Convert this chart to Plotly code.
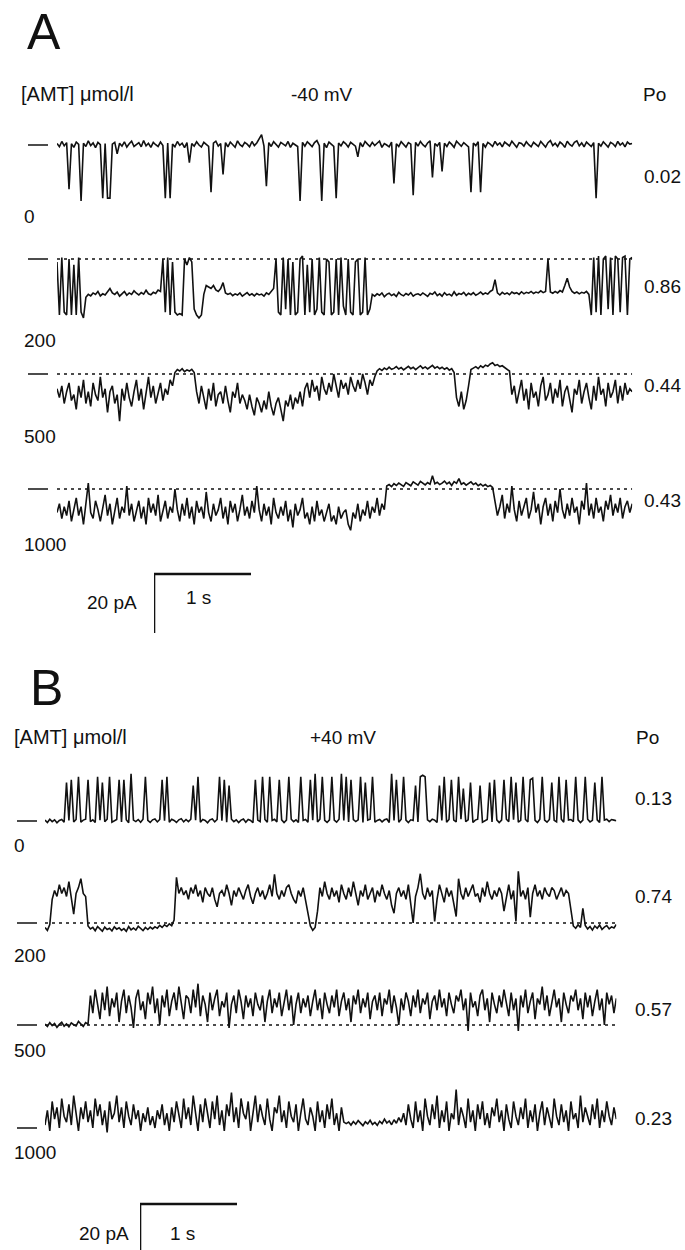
import numpy as np
import plotly.graph_objects as go

# ---------------- DATA ----------------
# Panel A: -40 mV, currents in pA (closed level = 0, openings downward)
conc_A = ["0", "200", "500", "1000"]
po_A = ["0.02", "0.86", "0.44", "0.43"]
# Panel B: +40 mV (openings upward)
conc_B = ["0", "200", "500", "1000"]
po_B = ["0.13", "0.74", "0.57", "0.23"]

duration_A_s = 5.93
duration_B_s = 5.89

current_A_0 = [
    0.5, -0.6, 1.2, -0.3, 0.8, -15, 0.4, -0.8, 1.0, 0.2, -19, 0.6, -0.5, 1.4, -0.2, 0.7, -0.9, 0.9, 0.1, -18,
    0.5, -18, -18, 0.3, 0.9, -3, 0.6, -0.4, 1.1, -0.7, 0.4, 1.3, -0.5, 0.2, 0.8, -0.6, 1.5, -0.3, 0.6, -0.8,
    0.9, 0.1, -0.5, 1.0, -0.2, -18, 0.7, -18, 0.3, -0.6, 1.2, -0.1, 0.6, -0.9, 0.8, -6, 0.5, -0.4, 1.1, 0.0,
    -0.7, 0.9, 0.3, -0.5, -16, 0.6, 1.3, -0.4, 0.5, -10, 0.8, -0.6, 1.0, 0.2, -0.8, 1.4, 0.1, -0.5, 0.9, 0.3,
    -0.6, 1.2, -0.2, 0.7, 2.0, 3.5, -0.4, -14, 0.8, -0.5, 1.1, 0.2, -0.7, 0.9, 0.4, -0.3, 1.2, -0.8, 0.6, 0.1,
    -0.5, -19, 0.9, -0.4, 1.1, 0.3, -0.6, 0.8, 1.5, -0.2, -19, 0.6, -0.9, 1.0, 0.2, -0.5, -18, 0.7, -0.3, 1.1,
    0.4, -0.7, 0.9, 0.1, -0.4, -4, 0.8, -0.6, 1.2, 0.3, -0.5, 0.9, -0.2, 0.6, 1.3, -0.8, 0.5, 0.0, -0.6, 1.0,
    -13, 0.4, -0.5, 1.1, 0.2, -0.7, 0.8, 0.3, -17, 0.9, -0.4, 1.2, 0.1, -0.6, 0.7, 1.4, -11, 0.5, -0.3, 0.9,
    -9, 0.6, -0.5, 1.0, 0.2, -0.8, 1.3, 0.4, -0.4, 0.8, 0.1, -0.6, -16, 0.7, -0.2, 1.1, -16, 0.5, -0.7, 0.9,
    0.3, -0.5, 1.2, 0.0, 0.7, -0.6, 1.0, 0.4, -0.3, 1.3, 0.2, -0.8, 0.8, 0.5, -0.4, 1.1, 0.1, -0.6, 0.9, 0.3,
    -0.5, 1.2, 0.4, -0.7, 0.8, 1.5, -0.2, 0.6, -0.5, 1.0, 0.3, -0.8, 1.3, 0.2, -0.4, 0.9, 1.4, -0.3, 0.7, -0.6,
    1.0, 0.2, -0.5, 0.8, -18, 0.6, -0.4, 1.1, 0.3, -0.7, 0.9, 0.4, -0.5, 1.2, 0.0, 0.7, -0.6, 1.0, 0.3, 0.5,
]

current_A_200 = [
    -1, -19, 0.5, -18, -19, 0, -19, -2, -19, 0.5, -18, -20,
    -13, -12, -12.5, -11.5, -12, -11, -12.5, -11.8, -12.2, -11, -10, -11.5, -12, -11.2, -12.6, -11.8,
    -11, -12.3, -11.5, -12, -10.8, -11.6, -12.2, -11.4, -11.9, -10.6, -11.8, -12.1, -11.3, -11.7, -10.5, -11,
    0, -18, 0.5, -19, -1, -18, -19, -18.5, -19, 0, -2, 0.5, -1, -17, -19, -20, -19, -12, -9,
    -9.5, -10, -9, -10.5, -11, -10, -8, -11.5, -12, -11.6, -12.4, -11.8, -12.2, -11.5, -12.6, -12,
    -11.4, -12.3, -11.8, -12.5, -11.7, -12.2, -11.9, -12.6, -11.5, -12, -11, -10,
    0, -18, -19, 0.5, -17, 0, -19, -1, -19, -18, 0, 1, -19, -2, -18, 0, -19, -17, 0.5, -18,
    -19, 0, -1, -19, -18, 0, -19, 0.5, -16, -19, 0, -18, -19, -1, 0, -19, -18, 0.5, -19, -17,
    -12, -12.6, -11.8, -12.3, -11.5, -12.8, -12, -11.6, -12.4, -11.9, -12.7, -11.3, -12.1, -12.5, -11.7, -12.2, -11.4, -12.6, -12, -11.8,
    -12.3, -11.5, -12.1, -12.7, -11.6, -12, -11.2, -12.4, -11.8, -12.6, -11.4, -12.2, -11.9, -12.5, -11.1, -12.3, -11.7, -12, -11.3, -12.4,
    -11.6, -12.1, -11.4, -12.3, -11.8, -11.2, -12, -11.5, -11.9, -11, -10.5, -7, -11.5, -12.2, -11.3, -11.9, -11.5, -12.1, -11.2, -11.7,
    -11.4, -12, -11.1, -11.8, -11.3, -11.6, -11, -11.7, -11.2, -11.5, -10.8, -11.4, -11, 0, -11.2,
    -11.6, -11, -11.5, -10.7, -11.2, -9, -6.5, -9.5, -11, -11.6, -11.2, -11.8, -11.3, -11.6, -11, -12,
    -19, 0.5, -18, 1, -19, 0, 1, -17, 0.5, -19, 1, 0, -18, 0.5, 1, -19, 0, 0.5,
]

current_A_500 = [
    -5, -8, -4, -10, -6, -3, -9, -7, -12, -4, -8, -2, -10, -6, -11, -3, -7, -9, -1, -8,
    -5, -13, -6, -4, -10, -7, -16, -5, -9, -3, -8, -11, -6, -2, -9, -5, -12, -7, -1, -8,
    -4, -10, -6, -3, -9, -5, -7, -2, -4,
    0.5, 1.5, 1, 1.8, 0.8, 1.4, 1, 1.6, 0.5,
    -6, -10, -4, -8, -12, -5, -9, -3, -11, -7, -6, -10, -4, -9, -13, -6, -8, -3, -10, -7,
    -9, -12, -7, -11, -14, -8, -10, -13, -9, -12, -6, -11, -14, -10, -8, -12, -16,
    -9, -11, -7, -12, -8, -10, -6, -11,
    -5, -3, -8, -2, -6, -4, -9, -1, -5, -7, -3, -6, 0, -4, -8, -2, -5, -3, -7, -1,
    -4, -6, -2, -5, 0, -3, -7, -2, -4, -1,
    1, 1.8, 1.2, 2, 1.5, 2.3, 1.6, 1.9, 2.5, 1.7, 2.2, 1.4, 2, 2.6, 1.8, 2.3, 1.5, 2.1, 2.8, 1.9,
    2.4, 1.7, 2.2, 2.9, 2, 2.5, 1.8, 2.3, 1.6, 2.1, 1.3, 1.8, 0.5,
    -8, -11, -6, -12, -9, -4,
    1.5, 2, 2.5, 1.8, 2.8, 2.2, 3, 2.6, 3.4, 3.8, 2.9, 3.2, 2.5, 2.8, 2.2, 1.8, 1,
    -7, -4, -10, -6, -2, -9, -5, -12, -3, -8, -6, -11, -4, -1, -9, -7, -3, -10, -5, -8,
    -2, -11, -6, -4, -9, -13, -5, -7, -2, -10, -6, -3, -8, -12, -4, -9, -1, -7, -5, -11,
    -3, -8, -6, -2, -10, -4, -9, -3, -7, -5, -6,
]

current_A_1000 = [
    -8, -5, -10, -6, -9, -4, -11, -7, -3, -9, -6, -12, -5, 2, -8, -10, -4, -7, -11, -6,
    -2, -9, -5, -12, -7, -3, -10, -6, -8, 1, -9, -5, -11, -7, -4, -10, -6, -12, -3, -8,
    -5, -9, -2, -11, -7, -4, -10, -6, -8, 0, -7, -11, -5, -9, -3, -10, -6, -12, -4, -8,
    -6, -10, -1, -8, -11, -5, -9, -7, -3, -10, -6, -12, -4, -8, -5, -11, -7, -2, -9, -6,
    -10, -4, -8, 1, -7, -11, -5, -9, -6, -12, -3, -8, -10, -6, -9, -4, -11, -7, -13, -5,
    -9, -7, -3, -10, -8, -12, -6, -11, -4, -9, -7, -11, -8, -5, -11, -9, -12, -6, -10, -8,
    -7, -12, -14, -8, -10, -5, -11, -7, -9, -4, -10, -6, -8, -3, -9, -5, -7,
    1, 1.5, 0.8, 1.8, 1.2, 2, 1.4, 0.9, 2.2, 1.6, 1.1, 2.4, 1.7, 1.3, 2.6, 1.9, 1.4, 2.2, 1.6, 4.5,
    1.8, 2.3, 1.5, 2, 2.7, 1.7, 2.3, 1.2, 2.5, 1.9, 3.5, 1.6, 2.1, 1.3, 1.9, 2.4, 1.5, 2, 1.1, 1.7,
    1, 1.5, 0.8, 1.2, 0.5,
    -4, -9, -6, -2, -10, -5, -8, 1, -7, -11, -4, -9, -6, -3, -10, -7, -1, -8, -5, -12,
    -6, -3, -9, -5, -11, -4, -8, 0, -7, -10, -5, -9, -3, -8, -6, -12, -4, -7, 2, -9,
    -5, -10, -3, -8, -6, -11, -4, -7, -2, -9, -5, -8, -3, -10, -6, -4, -8, -5,
]

current_B_0 = [
    0.3, -0.5, 0.6, -0.2, 0.4, -0.6, 0.2, 0.5, -0.4, 13,
    0.2, 14, -0.3, 0.5, 15, -0.4, 0.3, 0.6, 14, -0.2,
    0.4, -0.5, 15, 0.3, 13, -0.2, 0.6, 15, -0.4, 0.2,
    0.5, 14, -0.3, 14, 0.4, -0.6, 16, 0.3, -0.2, 0.5,
    -0.4, 0.6, 15, 0.2, -0.5, 0.4, 0.7, -0.3, 0.5, 14,
    0.1, 15, -0.4, 0.6, 0.2, -0.5, 0.4, 0.8, -0.3, 0.5,
    -0.2, 0.6, 12, 0.3, 15, -0.4, 0.5, 0.2, -0.6, 0.4,
    0.7, -0.3, 0.5, 15, 0.1, 14, -0.4, 12, 0.6, -0.2,
    0.4, -0.5, 0.3, 0.7, -0.4, 0.5, 0.2, -0.6, 14, 0.3,
    -0.2, 15, 0.5, -0.4, 15, 0.2, 0.6, -0.3, 14, 0.4,
    -0.5, 0.3, 15, 0.6, -0.2, 0.4, -0.5, 15, 0.2, 0.5,
    -0.4, 14, 0.3, 16, -0.3, 0.6, 15, 0.2, -0.5, 0.4,
    15, 0.3, -0.4, 0.6, 16, 0.2, 15, -0.3, 14, 0.5,
    -0.2, 0.4, 15, -0.5, 13, 0.3, 0.6, 15, -0.4, 0.2,
    0.5, -0.3, 0.4, 0.7, -0.5, 16, 0.2, 14, -0.4, 0.6,
    15, 0.3, -0.5, 0.4, 0.2, 12, -0.3, 15, 15.5, 15,
    0.4, -0.2, 0.6, 0.3, -0.5, 12, 0.2, 15, -0.4, 0.5,
    14, 0.3, -0.3, 15, 0.6, 11, -0.2, 0.4, 13, -0.5,
    0.3, 0.6, 12, -0.4, 0.2, 0.5, 13, -0.3, 14, 0.4,
    -0.5, 0.3, 14, 0.6, -0.2, 15, 0.4, 13, -0.4, 0.2,
    15, 0.5, -0.3, 14, 14.5, 0.2, -0.5, 0.6, 15, 0.3,
    -0.4, 0.5, 13, 0.2, -0.3, 15, 0.6, -0.4, 14, 0.3,
    0.5, -0.2, 15, 0.4, -0.5, 0.3, 15, 0.6, -0.3, 0.2,
    13, 0.4, -0.5, 15, 0.3, 0.6, -0.2, 0.5, 0.3, 0.1,
]

current_B_200 = [
    -1.5, -2.5, -0.5, 8, 11, 9, 13, 10, 12, 9,
    14, 8, 3, 10, 12, 15, 10, 9, -1, -2,
    -1.5, -2.6, -1.2, -2, -2.8, -1.4, -2.2, -1.8, -2.7, -1.3,
    -2.1, -1.6, -2.5, -1.9, -2.8, -1.2, -2.3, -1.7, -2.4, -1.1,
    -1.9, -2.6, -1.5, -2.2, -1.4, -2, -1.3, -1.8, -0.8, -1.5,
    -0.6, -1.2, -0.3, -0.9, 1, 15.5, 10, 12, 9.5, 11,
    8, 12, 10, 13, 9, 11, 7, 12, 10, 9,
    12, 8, 5.5, 10, 11, 9, 13, 10, 6, 11,
    9, 12, 10, 8, 11, 13, 9, 6.5, 10, 12,
    9, 11, 8, 10, 13, 9, 16.5, 10, 8, 11,
    9, 12, 13, 10, 8, 6.7, 11, 9, 12, 8,
    3, -1, -2.5, -1.5, 4, 12, 9, 14, 10, 8,
    12, 9, 11, 7, 13, 10, 8, 12, 9, 14,
    10, 6, 11, 9, 13, 8, 10, 12, 7, 11,
    9, 13, 10, 8, 11, 6, 3.3, 10, 12, 9,
    11, 8, 13, 7, 0, 9, 12, 16.7, 10, 8,
    12, 9, 11, 0.5, 8, 13, 10, 7, 12, 9,
    11, 6, 2.2, 15, 10, 8, 12, 9, 11, 13,
    9, 10, 7, 12, 9, 14, 10, 8, 11, 9,
    12, 10, 4, 9, 13, 8, 11, 0.5, 17.5, 9,
    11, 8, 12, 2, 10, 13, 9, 11, 8, 12,
    10, 9, 12, 11, 8, 10, 12, 9, 11, 10,
    5, -1, -1.8, -0.6, -1.5, 5, -0.8, -2, -1.2, -2.4,
    -1, -1.8, -0.7, -2.2, -1.4, -0.9, -2, -1.3, -1.7, -0.5,
]

current_B_500 = [
    0.3, -0.5, 0.8, -0.2, 0.5, -0.8, 0.2, 0.9, -0.4, 0.4,
    -0.6, 0.7, 0.1, -0.3, 1.2, 0.5, -0.5, 0.8, 0.3, 10,
    4, 12, 7, 2, 11, 5, 13, 3, 9, 6,
    11, 1, 8, 12, 4, 10, 6, -1, 9, 12,
    5, 8, 2, 11, 7, 13, 4, 9, 0, 10,
    6, 12, 3, 8, 11, 5, 13, 7, 2, 10,
    9, 4, 12, 6, 14, 3, 10, 7, 1, 11,
    5, 9, 12, 3, 8, 6, 11, -1, 7, 10,
    4, 12, 8, 2, 10, 6, 9, 3, 11, 7,
    5, 10, 1, 8, 12, 4, 9, 6, 11, 3,
    8, 12, 5, 10, 0, 7, 11, 4, 9, 6,
    10, 3, 8, 12, 5, 9, 2, 11, 7, 4,
    10, 6, 12, 3, 8, 11, 5, 9, 1, 10,
    7, 12, 4, 9, 6, 11, 2, 8, 10, 5,
    11, 3, 9, 7, 12, 4, 10, 6, 0, 9,
    5, 11, 8, 3, 10, 6, 12, 4, 9, 7,
    11, 2, 8, 10, 5, 12, 6, 9, 3, 11,
    7, 4, 10, 8, 12, 5, 9, -2, 11, 6,
    8, 3, 10, 12, 5, 9, 1, 11, 7, 4,
    10, 6, 12, 8, 3, 11, 5, 9, -2, 10,
    6, 12, 4, 8, 11, 2, 9, 7, 13, 5,
    10, 3, 8, 12, 6, 9, 1, 11, 7, 4,
    10, 8, 12, 5, 9, 2, 11, 6, 10, 3,
    8, 12, 5, 9, 0, 11, 7, 10, 4, 9,
]

current_B_1000 = [
    1, 6, -1, 9, 3, 7, 0, 10, 4, 2,
    8, 1, 11, 5, -1, 7, 3, 9, 2, 6,
    0, 10, 4, 8, 1, 6, -1.5, 9, 3, 5,
    11, 2, 7, 0, 9, 4, 1, 8, 3, 6,
    -1, 5, 2, 7, 1, 4, 0, 6, 3, 8,
    1, 5, -1, 7, 2, 9, 4, 0, 10, 3,
    7, 1, 11, 4, -1, 8, 2, 10, 5, 0,
    9, 3, 11, 1, 6, -1, 8, 4, 12, 2,
    7, 0, 10, 5, 3, 9, -1, 6, 11, 2,
    8, 4, 1, 10, 3, -1, 7, 5, 11, 2,
    6, 0, 9, 4, 2, 8, -1, 5, 10, 3,
    1, 7, 4, -1, 9, 2, 6, 0, 8, 3,
    10, 1, 5, -1, 7, 2, 1.5, 2, 1, 2.2,
    1.3, 2.5, 1.6, 0.8, 2.1, 1.4, 2.6, 1.2, 1.9, 0.9,
    2.3, 1.5, 3, 1.7, 2.4, 1.1, 2.8, 1.6, 3.5, 2,
    5, 1, 8, 3, 0, 9, 2, 6, -1, 10,
    4, 1, 8, 3, 11, 0, 6, 2, 9, -1,
    5, 3, 13, 1, 7, 4, 0, 10, 2, 6,
    -1, 8, 3, 9, 1, 5, 0, 7, 4, 10,
    2, 6, -1, 8, 3, 0, 9, 4, 1, 7,
    3, 10, 0, 6, 2, 8, -1, 5, 9, 1,
    7, 3, 0, 10, 4, 1, 8, 2, 6, -1,
    9, 3, 5, 0, 11, 2, 7, 4, 1, 8,
    3, 10, 0, 6, 2, 9, 4, 1, 7, 3,
]

scale_bar_time_s = 1
scale_bar_current_pA = 20

# ---------------- LAYOUT / STYLE ----------------
W, H = 685, 1250
PX_PER_PA = 2.95
PX_PER_S = 97.0
FONT = "Liberation Sans, Arial, Helvetica, sans-serif"
INK = "#111111"
LABEL_SIZE = 19
TRACE_WIDTH = 1.6

# per-trace placement: (data, duration, x_left_px, baseline_px, pA window lo/hi, dotted, dash x px)
panels = [
    dict(data=current_A_0, T=duration_A_s, x0=57, y0=145, lo=-24, hi=7, dotted=False, dash=(28, 48)),
    dict(data=current_A_200, T=duration_A_s, x0=57, y0=259, lo=-24, hi=7, dotted=True, dash=(28, 48)),
    dict(data=current_A_500, T=duration_A_s, x0=57, y0=374, lo=-24, hi=7, dotted=True, dash=(28, 48)),
    dict(data=current_A_1000, T=duration_A_s, x0=57, y0=489, lo=-24, hi=7, dotted=True, dash=(28, 48)),
    dict(data=current_B_0, T=duration_B_s, x0=45, y0=821, lo=-5, hi=20, dotted=False, dash=(17, 37)),
    dict(data=current_B_200, T=duration_B_s, x0=45, y0=923, lo=-5, hi=20, dotted=True, dash=(17, 37)),
    dict(data=current_B_500, T=duration_B_s, x0=45, y0=1025, lo=-5, hi=20, dotted=True, dash=(17, 37)),
    dict(data=current_B_1000, T=duration_B_s, x0=45, y0=1128, lo=-5, hi=20, dotted=False, dash=(17, 37)),
]

fig = go.Figure()
layout_axes = {}
shapes = []


def axname(n, letter):
    return f"{letter}axis" if n == 1 else f"{letter}axis{n}"


def axref(n, letter):
    return letter if n == 1 else f"{letter}{n}"


for i, p in enumerate(panels):
    n = i + 1
    vals = np.asarray(p["data"], dtype=float)
    N = len(vals)
    dt = p["T"] / (N - 1)
    t = np.arange(N) * dt
    width_px = p["T"] * PX_PER_S
    top_px = p["y0"] - p["hi"] * PX_PER_PA
    bot_px = p["y0"] - p["lo"] * PX_PER_PA
    layout_axes[axname(n, "x")] = dict(
        domain=[p["x0"] / W, (p["x0"] + width_px) / W], range=[0, p["T"]],
        visible=False, fixedrange=True, anchor=axref(n, "y"))
    layout_axes[axname(n, "y")] = dict(
        domain=[1 - bot_px / H, 1 - top_px / H], range=[p["lo"], p["hi"]],
        visible=False, fixedrange=True, anchor=axref(n, "x"))
    fig.add_trace(go.Scatter(
        x=t, y=vals, mode="lines", xaxis=axref(n, "x"), yaxis=axref(n, "y"),
        line=dict(color=INK, width=TRACE_WIDTH), showlegend=False, hoverinfo="skip"))
    # closed-level marker at the left
    shapes.append(dict(type="line", xref="paper", yref=axref(n, "y"),
                       x0=p["dash"][0] / W, x1=p["dash"][1] / W, y0=0, y1=0,
                       line=dict(color=INK, width=1.6)))
    if p["dotted"]:
        shapes.append(dict(type="line", xref=axref(n, "x"), yref=axref(n, "y"),
                           x0=0, x1=p["T"], y0=0, y1=0, layer="below",
                           line=dict(color=INK, width=1.3, dash="3px,4px")))

# scale bars (own axes with the same px/unit scaling)
scale_bars = [
    dict(corner=(154, 574)),
    dict(corner=(140, 1204)),
]
for j, sb in enumerate(scale_bars):
    n = len(panels) + j + 1
    cx, cy = sb["corner"]
    xr = 1.25
    hi = 2.0
    lo = -22.0
    bot_px = cy - lo * PX_PER_PA
    if bot_px > H:
        lo = -(H - cy) / PX_PER_PA
        bot_px = H
    layout_axes[axname(n, "x")] = dict(domain=[cx / W, (cx + xr * PX_PER_S) / W], range=[0, xr],
                                       visible=False, fixedrange=True, anchor=axref(n, "y"))
    layout_axes[axname(n, "y")] = dict(domain=[1 - bot_px / H, 1 - (cy - hi * PX_PER_PA) / H],
                                       range=[lo, hi], visible=False, fixedrange=True,
                                       anchor=axref(n, "x"))
    fig.add_trace(go.Scatter(
        x=[0, 0, scale_bar_time_s], y=[-scale_bar_current_pA, 0, 0], mode="lines",
        xaxis=axref(n, "x"), yaxis=axref(n, "y"),
        line=dict(color=INK, width=2.6), showlegend=False, hoverinfo="skip"))


def txt(s, x, y, size=LABEL_SIZE, anchor="left"):
    return dict(text=s, x=x / W, y=1 - y / H, xref="paper", yref="paper", showarrow=False,
                xanchor=anchor, yanchor="middle", font=dict(family=FONT, size=size, color=INK))


ann = [
    txt("A", 25, 32, size=50),
    txt("[AMT] μmol/l", 19, 94, size=20),
    txt("-40 mV", 322, 94, anchor="center"),
    txt("Po", 641, 94),
    txt("B", 28, 688, size=50),
    txt("[AMT] μmol/l", 12, 737, size=20),
    txt("+40 mV", 343, 737, anchor="center"),
    txt("Po", 634, 737),
    txt("20 pA", 139, 603, anchor="right"),
    txt("1 s", 184, 597),
    txt("20 pA", 131, 1233, anchor="right"),
    txt("1 s", 168, 1233),
]
conc_y_A = [217, 340, 436, 545]
po_y_A = [177, 286, 385, 500]
conc_y_B = [845, 955, 1050, 1152]
po_y_B = [798, 896, 1009, 1118]
for c, y in zip(conc_A, conc_y_A):
    ann.append(txt(c, 22, y))
for c, y in zip(po_A, po_y_A):
    ann.append(txt(c, 642, y))
for c, y in zip(conc_B, conc_y_B):
    ann.append(txt(c, 12, y))
for c, y in zip(po_B, po_y_B):
    ann.append(txt(c, 633, y))

fig.update_layout(
    width=W, height=H, margin=dict(l=0, r=0, t=0, b=0),
    paper_bgcolor="white", plot_bgcolor="rgba(0,0,0,0)",
    showlegend=False, annotations=ann, shapes=shapes, **layout_axes)

fig.write_html("out.html", config=dict(displayModeBar=False))
